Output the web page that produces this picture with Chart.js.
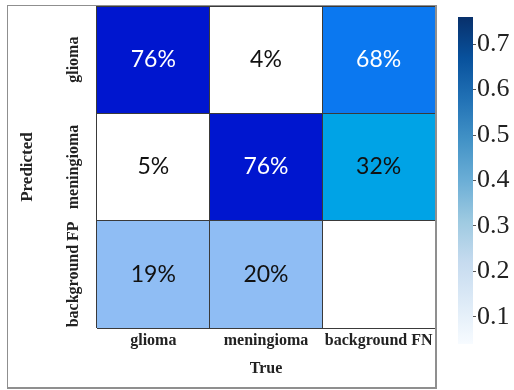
<!DOCTYPE html>
<html>
<head>
<meta charset="utf-8">
<title>Confusion matrix</title>
<script src="https://cdn.jsdelivr.net/npm/chart.js@4.4.1/dist/chart.umd.min.js"></script>
<style>
  html, body { margin: 0; padding: 0; background: #ffffff; }
  #wrap { position: relative; width: 514px; height: 390px; overflow: hidden; }
  #frame {
    position: absolute; left: 7px; top: 5px; width: 430px; height: 384px;
    box-sizing: border-box; border: 1px solid #8f8f8f;
    border-right-width: 2px; border-bottom-width: 2px; pointer-events: none;
  }
  #matrix { position: absolute; left: 0; top: 0; }
  #colorbar { position: absolute; left: 440px; top: 0; }
</style>
</head>
<body>
<div id="wrap">
  <canvas id="matrix" width="514" height="390"></canvas>
  <canvas id="colorbar" width="74" height="390"></canvas>
  <div id="frame"></div>
</div>
<script>
// Class names along each axis
const trueLabels = ['glioma', 'meningioma', 'background FN'];
const predictedLabels = ['glioma', 'meningioma', 'background FP'];

// Fractions per predicted row (columns follow trueLabels); null = empty cell
const rowGlioma = [0.76, 0.04, 0.68];
const rowMeningioma = [0.05, 0.76, 0.32];
const rowBackgroundFP = [0.19, 0.20, null];

// Colour bar range and tick labels
const colorbarMin = 0.04;
const colorbarMax = 0.76;
const colorbarTicks = [0.1, 0.2, 0.3, 0.4, 0.5, 0.6, 0.7];

const rows = [rowGlioma, rowMeningioma, rowBackgroundFP];

const SERIF = '"Liberation Serif", "Times New Roman", serif';
const SANS = 'Lato, "Open Sans", sans-serif';

// Cell fill palette keyed by value
const cellStops = [
  [0.00, [255, 255, 255]],
  [0.06, [255, 255, 255]],
  [0.19, [143, 189, 244]],
  [0.20, [143, 189, 244]],
  [0.32, [0, 163, 230]],
  [0.68, [11, 120, 240]],
  [0.76, [0, 22, 207]]
];

function cellColor(v) {
  if (v === null || v === undefined) return '#ffffff';
  for (let i = 1; i < cellStops.length; i++) {
    const [v1, c1] = cellStops[i];
    const [v0, c0] = cellStops[i - 1];
    if (v <= v1) {
      const t = (v - v0) / (v1 - v0 || 1);
      const c = c0.map((a, k) => Math.round(a + (c1[k] - a) * t));
      return `rgb(${c[0]},${c[1]},${c[2]})`;
    }
  }
  const c = cellStops[cellStops.length - 1][1];
  return `rgb(${c[0]},${c[1]},${c[2]})`;
}

// One floating-bar dataset per predicted row; each bar spans its row band
const datasets = rows.map((row, r) => ({
  label: predictedLabels[r],
  data: row.map((v, c) => ({ x: trueLabels[c], y: [r, r + 1], v: v })),
  backgroundColor: row.map(cellColor),
  borderWidth: 0,
  barPercentage: 1,
  categoryPercentage: 1,
  grouped: false
}));

// Percentage text in every filled cell
const cellText = {
  id: 'cellText',
  afterDatasetsDraw(chart) {
    const ctx = chart.ctx;
    ctx.save();
    ctx.font = '23px ' + SANS;
    ctx.textAlign = 'center';
    ctx.textBaseline = 'middle';
    chart.data.datasets.forEach((ds, i) => {
      chart.getDatasetMeta(i).data.forEach((bar, j) => {
        const v = ds.data[j].v;
        if (v === null) return;
        const p = bar.getCenterPoint();
        ctx.fillStyle = v > 0.5 ? '#ffffff' : '#111111';
        ctx.fillText(Math.round(v * 100) + '%', p.x, p.y);
      });
    });
    ctx.restore();
  }
};

// Rotated row names beside the y axis
const rowNames = {
  id: 'rowNames',
  afterDraw(chart) {
    const ctx = chart.ctx;
    const y = chart.scales.y;
    ctx.save();
    ctx.font = 'bold 16px ' + SERIF;
    ctx.fillStyle = '#222222';
    ctx.textAlign = 'center';
    ctx.textBaseline = 'middle';
    predictedLabels.forEach((name, r) => {
      ctx.save();
      ctx.translate(chart.chartArea.left - 23, y.getPixelForValue(r + 0.5));
      ctx.rotate(-Math.PI / 2);
      ctx.fillText(name, 0, 0);
      ctx.restore();
    });
    ctx.restore();
  }
};

new Chart(document.getElementById('matrix'), {
  type: 'bar',
  data: { labels: trueLabels, datasets: datasets },
  options: {
    responsive: false,
    animation: false,
    devicePixelRatio: 1,
    layout: { padding: { left: 7, right: 79, top: 6, bottom: 2 } },
    plugins: { legend: { display: false }, tooltip: { enabled: false } },
    scales: {
      x: {
        type: 'category',
        offset: true,
        grid: { display: true, offset: true, color: '#3a3a3a', lineWidth: 1, drawTicks: false, z: 1 },
        border: { display: false },
        ticks: { font: { family: SERIF, size: 16, weight: 'bold' }, color: '#222222', padding: 3, maxRotation: 0 },
        title: { display: true, text: 'True', font: { family: SERIF, size: 16, weight: 'bold' }, color: '#222222', padding: { top: 0, bottom: 10 } },
        afterFit(scale) { scale.height = 60; }
      },
      y: {
        type: 'linear',
        min: 0,
        max: 3,
        reverse: true,
        grid: { display: true, color: '#3a3a3a', lineWidth: 1, drawTicks: false, z: 1 },
        border: { display: false },
        ticks: { display: false, stepSize: 1 },
        title: { display: true, text: 'Predicted', font: { family: SERIF, size: 17, weight: 'bold' }, color: '#222222', padding: { top: 10, bottom: 0 } },
        afterFit(scale) { scale.width = 90; }
      }
    }
  },
  plugins: [cellText, rowNames]
});

// Matplotlib "Blues" ramp for the colour bar
const bluesStops = ['#f7fbff', '#deebf7', '#c6dbef', '#9ecae1', '#6baed6', '#4292c6', '#2171b5', '#08519c', '#08306b'];

function bluesGradient(context) {
  const area = context.chart.chartArea;
  if (!area) return '#6baed6';
  const g = context.chart.ctx.createLinearGradient(0, area.bottom, 0, area.top);
  bluesStops.forEach((c, i) => g.addColorStop(i / (bluesStops.length - 1), c));
  return g;
}

new Chart(document.getElementById('colorbar'), {
  type: 'bar',
  data: {
    labels: [''],
    datasets: [{
      data: [[colorbarMin, colorbarMax]],
      backgroundColor: bluesGradient,
      borderWidth: 0,
      barPercentage: 1,
      categoryPercentage: 1
    }]
  },
  options: {
    responsive: false,
    animation: false,
    devicePixelRatio: 1,
    layout: { padding: { left: 18, right: 0, top: 17, bottom: 46 } },
    plugins: { legend: { display: false }, tooltip: { enabled: false } },
    scales: {
      x: { display: false, offset: true },
      y: {
        position: 'right',
        min: colorbarMin,
        max: colorbarMax,
        afterBuildTicks(scale) { scale.ticks = colorbarTicks.map(v => ({ value: v })); },
        grid: { display: true, drawOnChartArea: false, drawTicks: true, tickLength: 3, tickColor: '#555555', tickWidth: 1 },
        border: { display: false },
        ticks: {
          font: { family: SERIF, size: 26 },
          color: '#222222',
          padding: 1,
          callback: (v) => Number(v).toFixed(1)
        },
        afterFit(scale) { scale.width = 41; }
      }
    }
  }
});
</script>
</body>
</html>
